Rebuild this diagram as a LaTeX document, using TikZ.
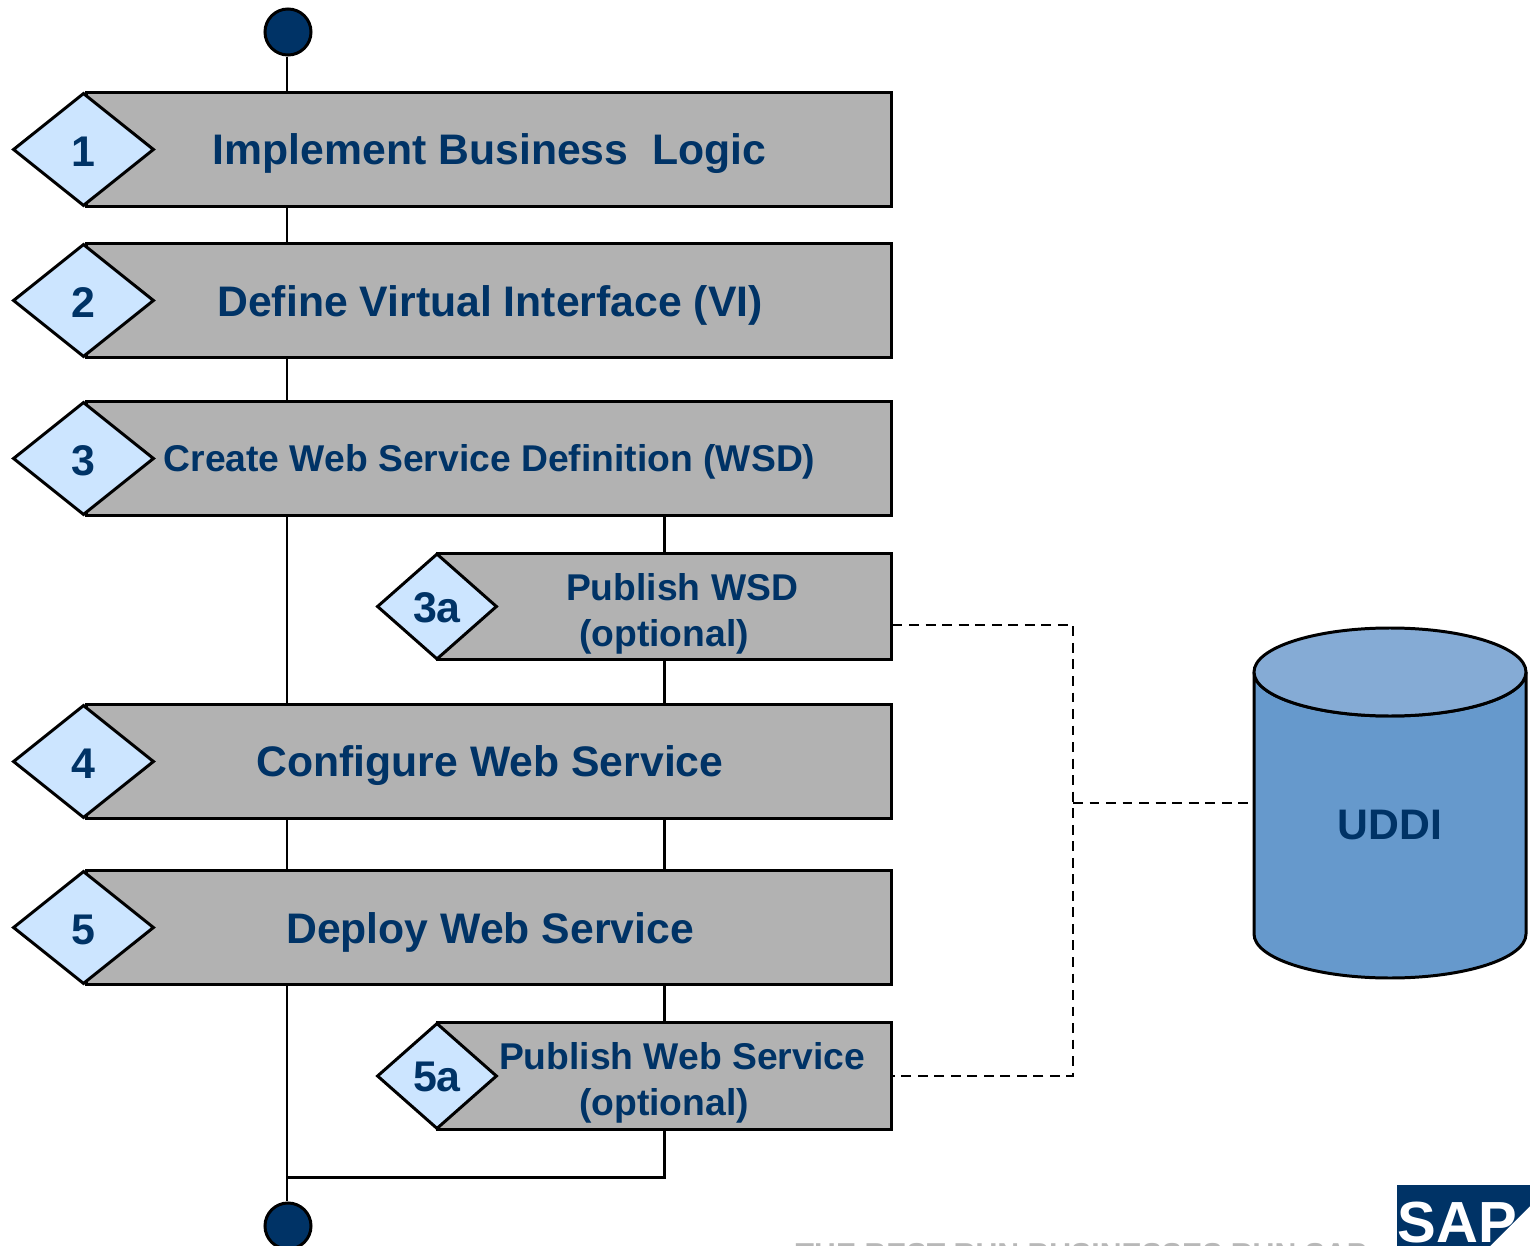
\documentclass[tikz,border=0pt]{standalone}
\usepackage{xcolor}
\usepackage{fontspec}
\setmainfont{Liberation Sans}
\usepackage{tikz}
\usetikzlibrary{shapes.geometric}
\definecolor{labelcolor}{RGB}{0, 51, 102}
\definecolor{stepcolor}{RGB}{178, 178, 178}
\definecolor{tagcolor}{RGB}{204, 229, 255}
\definecolor{bodycolor}{RGB}{102, 153, 204}
\definecolor{lidcolor}{RGB}{133, 171, 213}
\tikzset{
  stepbox/.style={draw=black,fill=stepcolor,line width=0.85pt,inner sep=0pt,minimum width=8.04cm,minimum height=1.13cm},
  subbox/.style={draw=black,fill=stepcolor,line width=0.85pt,inner sep=0pt,minimum width=4.53cm,minimum height=1.06cm},
  steptag/.style={diamond,draw=black,fill=tagcolor,line width=0.85pt,inner sep=0pt,minimum width=1.41cm,minimum height=1.13cm,aspect=1.25,text=labelcolor,text height=9.5pt,text depth=0pt,font=\fontsize{12.2pt}{14pt}\bfseries},
  subtag/.style={diamond,draw=black,fill=tagcolor,line width=0.85pt,inner sep=0pt,minimum width=1.2cm,minimum height=1.06cm,aspect=1.13,text=labelcolor,text height=9pt,text depth=0pt,font=\fontsize{12.2pt}{14pt}\bfseries},
  steptext/.style={inner sep=0pt,text=labelcolor,font=\fontsize{12.15pt}{14pt}\bfseries},
  subtext/.style={inner sep=0pt,text=labelcolor,font=\fontsize{10.6pt}{13pt}\bfseries},
  terminal/.style={circle,draw=black,fill=labelcolor,line width=0.85pt,inner sep=0pt,minimum size=0.46cm},
  flow/.style={draw=black,line width=0.85pt},
  link/.style={draw=black,line width=0.7pt,dash pattern=on 2.8pt off 1.9pt}
}
\begin{document}
\begin{tikzpicture}[x=0.01cm,y=-0.01cm]
  \useasboundingbox (0,0) rectangle (1530,1246);
  \clip (0,0) rectangle (1530,1246);
  \coordinate (trunk) at (287,0);
  \coordinate (branch) at (664,0);
  % steps
  \node[terminal] (start) at (288,32) {};
  \node[stepbox] (step1) at (489,149.5) {};
  \node[stepbox] (step2) at (489,300.5) {};
  \node[stepbox] (step3) at (489,458.5) {};
  \node[subbox] (step3a) at (664.5,606.5) {};
  \node[stepbox] (step4) at (489,761.5) {};
  \node[stepbox] (step5) at (489,927.5) {};
  \node[subbox] (step5a) at (664.5,1076) {};
  \node[terminal] (stop) at (288,1226) {};
  \node[steptag] (tag1) at (83.5,149.5) {1};
  \node[steptag] (tag2) at (83.5,300.5) {2};
  \node[steptag] (tag3) at (83.5,458.5) {3};
  \node[subtag] (tag3a) at (437,606.5) {3a};
  \node[steptag] (tag4) at (83.5,761.5) {4};
  \node[steptag] (tag5) at (83.5,927.5) {5};
  \node[subtag] (tag5a) at (437,1076) {5a};
  % labels
  \node[steptext] (text1) at (489.5,154) {Implement Business\ \ Logic};
  \node[steptext] (text2) at (490,305) {Define Virtual Interface (VI)};
  \node[subtext] (text3) at (489.5,462) {Create Web Service Definition (WSD)};
  \node[subtext] (text3a) at (682,587) {Publish WSD};
  \node[subtext] (text3b) at (664,637) {(optional)};
  \node[steptext] (text4) at (490,766) {Configure Web Service};
  \node[steptext] (text5) at (490,932) {Deploy Web Service};
  \node[subtext] (text5a) at (682,1056) {Publish Web Service};
  \node[subtext] (text5b) at (664,1106) {(optional)};
  % registry
  \draw[fill=bodycolor,line width=0.85pt] (1254,672) -- (1254,934)
    arc[start angle=180,end angle=0,x radius=136,y radius=44] -- (1526,672)
    arc[start angle=0,end angle=180,x radius=136,y radius=44] -- cycle;
  \draw[fill=lidcolor,line width=0.85pt] (1390,672) ellipse[x radius=136,y radius=44];
  \node[steptext] (uddi) at (1390,825) {UDDI};
  % main line
  \draw[flow] (trunk |- start.south) -- (trunk |- step1.north);
  \draw[flow] (trunk |- step1.south) -- (trunk |- step2.north);
  \draw[flow] (trunk |- step2.south) -- (trunk |- step3.north);
  \draw[flow] (trunk |- step3.south) -- (trunk |- step4.north);
  \draw[flow] (trunk |- step4.south) -- (trunk |- step5.north);
  \draw[flow] (trunk |- step5.south) -- (trunk |- stop.north);
  % optional branch
  \draw[flow] (branch |- step3.south) -- (branch |- step3a.north);
  \draw[flow] (branch |- step3a.south) -- (branch |- step4.north);
  \draw[flow] (branch |- step4.south) -- (branch |- step5.north);
  \draw[flow] (branch |- step5.south) -- (branch |- step5a.north);
  \coordinate (join) at (287,1177);
  \draw[flow] (branch |- step5a.south) -- (branch |- join) -- (join);
  % dashed links
  \coordinate (bus1) at (1073,625);
  \coordinate (bus2) at (1073,1076);
  \coordinate (bus3) at (1073,803);
  \coordinate (busend) at (1248,803);
  \draw[link] (step3a.east |- bus1) -- (bus1) -- (bus2) -- (step5a.east |- bus2);
  \draw[link] (bus3) -- (busend);
  % logo
  \fill[labelcolor] (1397,1185) -- (1530,1185) -- (1530,1206) -- (1490,1246) -- (1397,1246) -- cycle;
  \node[inner sep=0pt,anchor=base west,text=white,font=\fontsize{16.5pt}{20pt}\bfseries] (logo) at (1397,1242) {SAP};
  \node[inner sep=0pt,anchor=base west,text=black!28,font=\fontsize{8.6pt}{10pt}\bfseries] (slogan) at (795,1264) {THE BEST-RUN BUSINESSES RUN SAP};
\end{tikzpicture}
\end{document}
